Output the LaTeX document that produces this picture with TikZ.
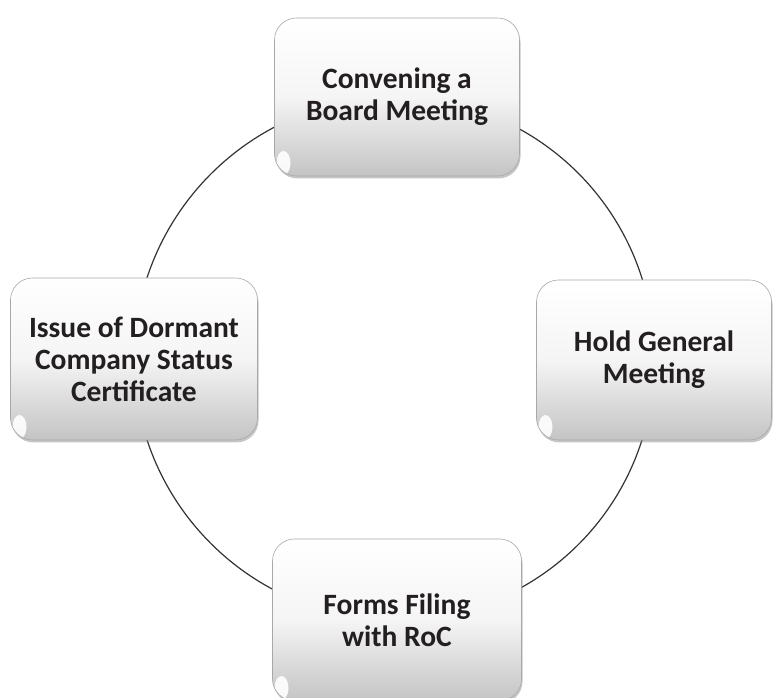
\documentclass[tikz,border=0pt]{standalone}
\usepackage{fontspec}
\setmainfont{Carlito}
\usepackage{tikz}
\usetikzlibrary{positioning,backgrounds,shadows}
\definecolor{cyink}  {HTML}{231F20}
\definecolor{cyring} {HTML}{333333}
\definecolor{cyedge} {HTML}{A8A8A8}
\definecolor{cybase} {HTML}{C4C4C4}
\tikzset{
  cystep/.style={draw=cyedge, line width=0.6pt, rounded corners=22pt,
                 top color=white, bottom color=cybase, middle color=gray!8,
                 drop shadow={shadow xshift=1pt, shadow yshift=-2.5pt, opacity=0.45},
                 path picture={\fill[white, opacity=0.9, rotate=-35]
                   ([shift={(9pt,13pt)}]path picture bounding box.south west)
                   ellipse (7pt and 12pt);},
                 font=\bfseries\fontsize{29.5}{32}\selectfont, text=cyink,
                 align=center, inner sep=0pt},
  cyring/.style={draw=cyring, line width=1.2pt},
}

\begin{document}
\begin{tikzpicture}[x=1pt,y=1pt]
  \useasboundingbox (0,0) rectangle (773,698);

  % the four steps, placed round the ring
  \node[cystep, minimum width=245pt, minimum height=158pt] (conv) at (397,601)
    {Convening a\\Board Meeting};
  \node[cystep, minimum width=235pt, minimum height=160pt] (hold) at (654,338)
    {Hold General\\Meeting};
  \node[cystep, minimum width=249pt, minimum height=162pt] (forms) at (397,78)
    {Forms Filing\\with RoC};
  \node[cystep, minimum width=247pt, minimum height=162pt] (issue) at (134,339)
    {Issue of Dormant\\Company Status\\Certificate};

  % ring joining the steps
  \begin{scope}[on background layer]
    \draw[cyring] (conv.center) to[bend left=45] (hold.center);
    \draw[cyring] (hold.center) to[bend left=45] (forms.center);
    \draw[cyring] (forms.center) to[bend left=45] (issue.center);
    \draw[cyring] (issue.center) to[bend left=45] (conv.center);
  \end{scope}
\end{tikzpicture}
\end{document}
